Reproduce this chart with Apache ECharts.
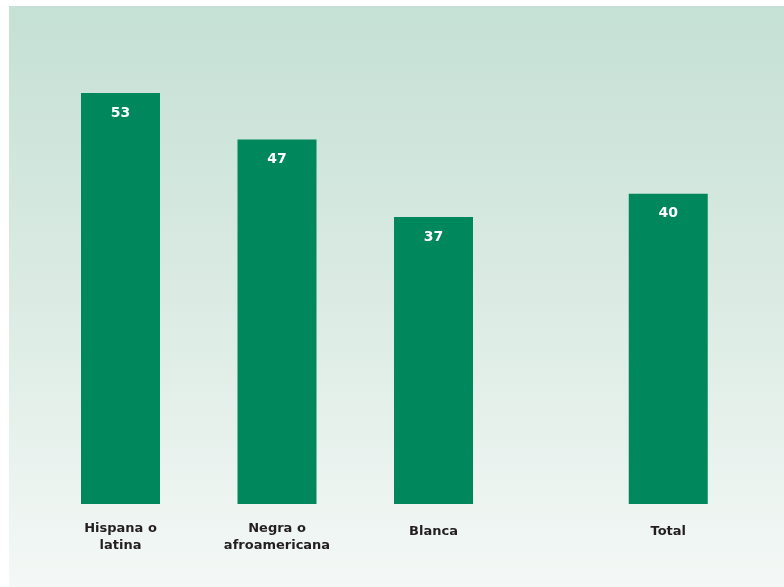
<!DOCTYPE html>
<html>
<head>
<meta charset="utf-8">
<style>
  html, body { margin: 0; padding: 0; background: #ffffff; }
  #chart { width: 784px; height: 587px; }
</style>
<script src="https://cdn.jsdelivr.net/npm/echarts@6/dist/echarts.min.js"></script>
</head>
<body>
<div id="chart"></div>
<script>
// Categories, their horizontal slots (Total sits apart from the group) and values
const categories = ['Hispana o\nlatina', 'Negra o\nafroamericana', 'Blanca', 'Total'];
const slots = [0, 1, 2, 3.5];
const values = [53, 47, 37, 40];

const barColor = '#00885c';
const chart = echarts.init(document.getElementById('chart'), null, { renderer: 'canvas' });

const labelFor = {};
slots.forEach((s, i) => { labelFor[s] = categories[i]; });

chart.setOption({
  animation: false,
  backgroundColor: '#ffffff',
  graphic: [{
    type: 'rect',
    z: -10,
    silent: true,
    shape: { x: 9, y: 6, width: 775, height: 581 },
    style: {
      fill: new echarts.graphic.LinearGradient(0, 0, 0, 1, [
        { offset: 0, color: '#c5e0d4' },
        { offset: 0.5, color: '#dbebe4' },
        { offset: 1, color: '#f4f8f6' }
      ])
    }
  }],
  grid: { left: 42.25, right: 37.5, top: 38.7, bottom: 83 },
  xAxis: {
    type: 'value',
    min: -0.5,
    max: 4,
    axisLine: { show: false },
    axisTick: { show: false },
    splitLine: { show: false },
    axisLabel: {
      customValues: slots,
      margin: 16,
      formatter: function (v) {
        const t = labelFor[v] || '';
        return t.indexOf('\n') >= 0 ? '{m|' + t.replace('\n', '}\n{m|') + '}' : '{s|' + t + '}';
      },
      rich: {
        m: { fontFamily: 'DejaVu Sans', fontWeight: 'bold', fontSize: 13, color: '#231f20', lineHeight: 17 },
        s: { fontFamily: 'DejaVu Sans', fontWeight: 'bold', fontSize: 13, color: '#231f20', lineHeight: 17, padding: [7, 0, 0, 0] }
      }
    }
  },
  yAxis: {
    type: 'value',
    min: 0,
    max: 60,
    show: false
  },
  series: [{
    type: 'bar',
    barWidth: 79,
    itemStyle: { color: barColor },
    label: {
      show: true,
      position: 'insideTop',
      distance: 13,
      color: '#ffffff',
      fontFamily: 'DejaVu Sans',
      fontWeight: 'bold',
      fontSize: 14,
      formatter: function (p) { return p.value[1]; }
    },
    data: slots.map((s, i) => [s, values[i]])
  }]
});
</script>
</body>
</html>
